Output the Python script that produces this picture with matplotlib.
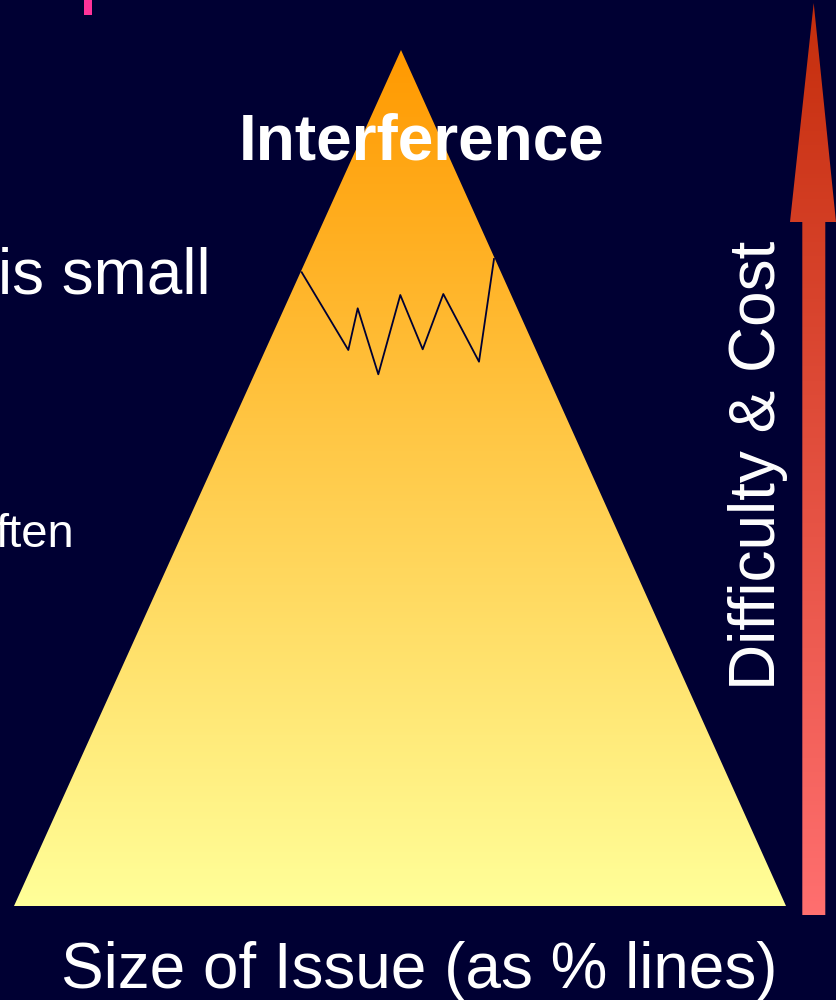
import numpy as np
import matplotlib.pyplot as plt
from matplotlib.colors import LinearSegmentedColormap
from matplotlib.patches import Polygon, Rectangle

BG = "#000033"

# Triangle (pixel coords, y down)
tri_x = [401, 786, 14]
tri_y = [50, 906, 906]

# Zigzag line across the top of the pyramid
zig_x = [301.7, 348.3, 357.7, 378.3, 400.3, 422.7, 443.3, 479.0, 494.0]
zig_y = [272.3, 350.0, 308.3, 374.3, 295.0, 349.3, 294.0, 361.7, 259.0]

# Arrow on the right
arrow_x = [813.7, 836, 825.3, 825.3, 802.3, 802.3, 790]
arrow_y = [3, 222, 222, 915, 915, 222, 222]

labels = ["Interference", "is small", "ften", "Size of Issue (as % lines)", "Difficulty & Cost"]

plt.rcParams['font.family'] = ['Liberation Sans', 'DejaVu Sans']

fig = plt.figure(figsize=(8.36, 10), dpi=100, facecolor=BG)
ax = fig.add_axes([0, 0, 1, 1])
ax.set_facecolor(BG)
ax.set_xlim(0, 836)
ax.set_ylim(1000, 0)
ax.axis("off")

# pyramid with vertical gradient
tri_cmap = LinearSegmentedColormap.from_list("tri", ["#ff9900", "#ffff99"])
grad = np.linspace(0, 1, 256).reshape(-1, 1)
tri = Polygon(list(zip(tri_x, tri_y)), closed=True, facecolor="none", edgecolor="none")
ax.add_patch(tri)
im = ax.imshow(grad, cmap=tri_cmap, aspect="auto",
               extent=[min(tri_x), max(tri_x), max(tri_y), min(tri_y)], zorder=1)
im.set_clip_path(tri)

ax.plot(zig_x, zig_y, color="#000033", lw=1.3, zorder=3)

# arrow with gradient
arr_cmap = LinearSegmentedColormap.from_list("arr", ["#c52e0c", "#ff6f6f"])
arr = Polygon(list(zip(arrow_x, arrow_y)), closed=True, facecolor="none", edgecolor="none")
ax.add_patch(arr)
im2 = ax.imshow(grad, cmap=arr_cmap, aspect="auto",
                extent=[min(arrow_x), max(arrow_x), max(arrow_y), min(arrow_y)], zorder=1)
im2.set_clip_path(arr)

# pink mark top-left
ax.add_patch(Rectangle((84, 0), 8, 15, facecolor="#ff3399", edgecolor="none", zorder=2))

ax.text(421.5, 160, labels[0], color="white", fontsize=46, fontweight="bold",
        ha="center", va="baseline", zorder=4)
ax.text(-2, 293, labels[1], color="white", fontsize=46, ha="left", va="baseline", zorder=4)
ax.text(-5, 547, labels[2], color="white", fontsize=34, ha="left", va="baseline", zorder=4)
ax.text(419, 988, labels[3], color="white", fontsize=46, ha="center", va="baseline", zorder=4)
ax.text(788, 465, labels[4], color="white", fontsize=46, rotation=90,
        ha="right", va="center", zorder=4)

fig.savefig("out.png", dpi=100, facecolor=BG)
